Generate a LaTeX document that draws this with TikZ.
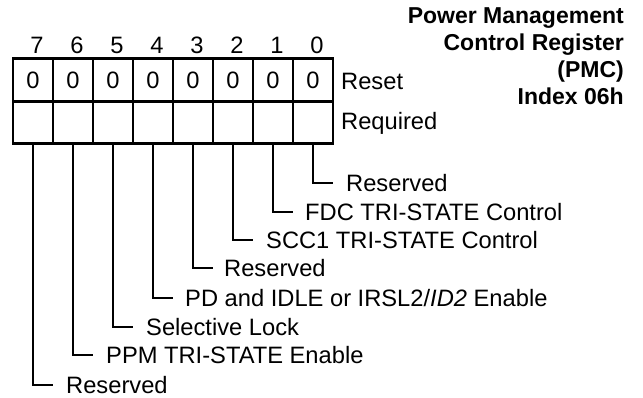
\documentclass[tikz,border=0pt]{standalone}
\usepackage{fontspec}
\setmainfont{Liberation Sans}
\begin{document}
\begin{tikzpicture}[x=1pt,y=-1pt,
  every node/.style={font=\fontsize{23.7}{28}\selectfont},
  cell/.style={draw,line width=2.9pt,minimum width=40pt,inner sep=0pt},
  resetcell/.style={cell,minimum height=43.4pt},
  reqcell/.style={cell,minimum height=41.6pt},
  bitnum/.style={inner sep=0pt},
  lead/.style={line width=2.6pt},
  fieldlabel/.style={anchor=west,inner sep=0pt},
  titletext/.style={align=right,inner sep=0pt,font=\fontsize{23}{27}\selectfont\bfseries}]
\useasboundingbox (0,0) rectangle (643,398);
% title
\node[titletext,anchor=north east] (title) at (624,7.5) {Power Management\\Control Register\\(PMC)\\Index 06h};
% register cells
\foreach \b in {7,6,...,0} {
  \pgfmathsetmacro{\cx}{33+40*(7-\b)}
  \node[resetcell] (r\b) at (\cx,80) {0};
  \node[reqcell] (q\b) at (\cx,122.5) {};
  \node[bitnum] (n\b) at (\cx+4,45) {\b};
}
\node[fieldlabel] (reset) at (341,81) {Reset};
\node[fieldlabel] (required) at (341,123) {Required};
% field labels
\node[fieldlabel] (l0) at (346,183) {Reserved};
\node[fieldlabel] (l1) at (305,212) {FDC TRI-STATE Control};
\node[fieldlabel] (l2) at (266,240) {SCC1 TRI-STATE Control};
\node[fieldlabel] (l3) at (224,268) {Reserved};
\node[fieldlabel] (l4) at (185,298) {PD and IDLE or IRSL2/\textit{ID2} Enable};
\node[fieldlabel] (l5) at (146,327) {Selective Lock};
\node[fieldlabel] (l6) at (106,355) {PPM TRI-STATE Enable};
\node[fieldlabel] (l7) at (66,385) {Reserved};
% leads
\foreach \b/\y in {0/183,1/212,2/240,3/268,4/298,5/327,6/355,7/385} {
  \pgfmathsetmacro{\cx}{33+40*(7-\b)}
  \coordinate (e\b) at (\cx+20,\y);
  \draw[lead] (q\b.south) |- (e\b);
}
\end{tikzpicture}
\end{document}
